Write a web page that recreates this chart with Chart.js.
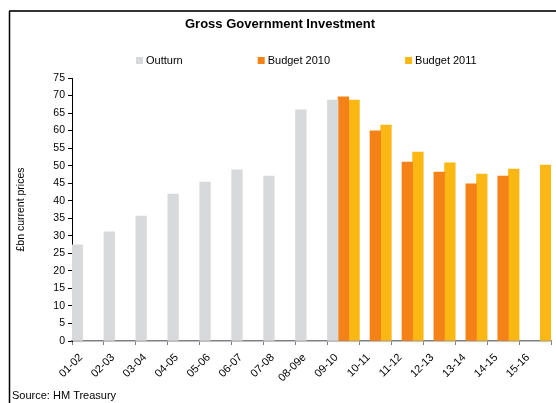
<!DOCTYPE html>
<html>
<head>
<meta charset="utf-8">
<script src="https://cdn.jsdelivr.net/npm/chart.js@4.4.0/dist/chart.umd.min.js"></script>
<style>
  html, body { margin: 0; padding: 0; background: #fff; }
</style>
</head>
<body>
<canvas id="barChart" width="556" height="403"></canvas>
<script>
// data (£bn)
var years = ["01-02", "02-03", "03-04", "04-05", "05-06", "06-07", "07-08", "08-09e",
             "09-10", "10-11", "11-12", "12-13", "13-14", "14-15", "15-16"];
var outturn = [27.4, 31.1, 35.6, 41.9, 45.3, 48.8, 47.0, 65.9, 68.7,
               null, null, null, null, null, null];
var budget2010 = [null, null, null, null, null, null, null, null,
                  69.6, 59.9, 51.0, 48.2, 44.8, 47.0, null];
var budget2011 = [null, null, null, null, null, null, null, null,
                  68.7, 61.6, 53.9, 50.8, 47.6, 49.0, 50.2];
var yMin = 0, yMax = 75, yStep = 5;

Chart.defaults.font.family = '"Liberation Sans", Arial, sans-serif';
Chart.defaults.color = "#000";

// frame, legend and source line
var decor = {
    id: "decor",
    afterDraw: function (chart) {
        var c = chart.ctx;
        c.save();
        // frame
        c.strokeStyle = "#333";
        c.lineWidth = 2;
        c.beginPath();
        c.moveTo(9, 11);
        c.lineTo(556, 11);
        c.stroke();
        c.strokeStyle = "#000";
        c.lineWidth = 1.5;
        c.beginPath();
        c.moveTo(9.5, 11);
        c.lineTo(9.5, 403);
        c.stroke();

        // legend
        c.font = "11px " + Chart.defaults.font.family;
        c.textBaseline = "middle";
        c.textAlign = "left";
        var x = 136;
        chart.data.datasets.forEach(function (ds) {
            c.fillStyle = ds.backgroundColor;
            c.fillRect(x, 57, 7, 7);
            c.fillStyle = "#000";
            c.fillText(ds.label, x + 10, 60.5);
            x += 10 + c.measureText(ds.label).width + 75;
        });

        // source
        c.textBaseline = "alphabetic";
        c.fillText("Source: HM Treasury", 12, 399);
        c.restore();
    }
};

var ctx = document.getElementById("barChart").getContext("2d");
var myChart = new Chart(ctx, {
    type: "bar",
    data: {
        labels: years,
        datasets: [
            { label: "Outturn", data: outturn, backgroundColor: "#d8d9db" },
            { label: "Budget 2010", data: budget2010, backgroundColor: "#f58217" },
            { label: "Budget 2011", data: budget2011, backgroundColor: "#fbb814" },
        ],
    },
    options: {
        responsive: false,
        animation: false,
        categoryPercentage: 1,
        barPercentage: 1,
        layout: { padding: { left: 9, right: 5, top: 0, bottom: 0 } },
        plugins: {
            legend: { display: false },
            tooltip: { enabled: false },
            title: {
                display: true,
                text: "Gross Government Investment",
                font: { size: 13, weight: "bold" },
                color: "#000",
                padding: { top: 17, bottom: 45.4 },
            },
        },
        scales: {
            x: {
                grid: {
                    offset: true,
                    drawOnChartArea: false,
                    drawTicks: true,
                    tickLength: 4,
                    color: "#808080",
                },
                border: { color: "#808080", width: 1.5 },
                ticks: {
                    minRotation: 45,
                    maxRotation: 45,
                    autoSkip: false,
                    padding: 6,
                    labelOffset: -7,
                    font: { size: 11 },
                    color: "#000",
                },
                afterFit: function (scale) { scale.height = 62; },
            },
            y: {
                min: yMin,
                max: yMax,
                grid: {
                    drawOnChartArea: false,
                    drawTicks: true,
                    tickLength: 4,
                    color: "#000",
                },
                border: { color: "#000", width: 1 },
                ticks: {
                    stepSize: yStep,
                    padding: 3,
                    font: { size: 10.5 },
                    color: "#000",
                },
                title: {
                    display: true,
                    text: "£bn current prices",
                    font: { size: 10.5 },
                    color: "#000",
                    padding: { top: 6, bottom: 0 },
                },
                afterFit: function (scale) { scale.width = 63; },
            },
        },
    },
    plugins: [decor],
});
</script>
</body>
</html>
